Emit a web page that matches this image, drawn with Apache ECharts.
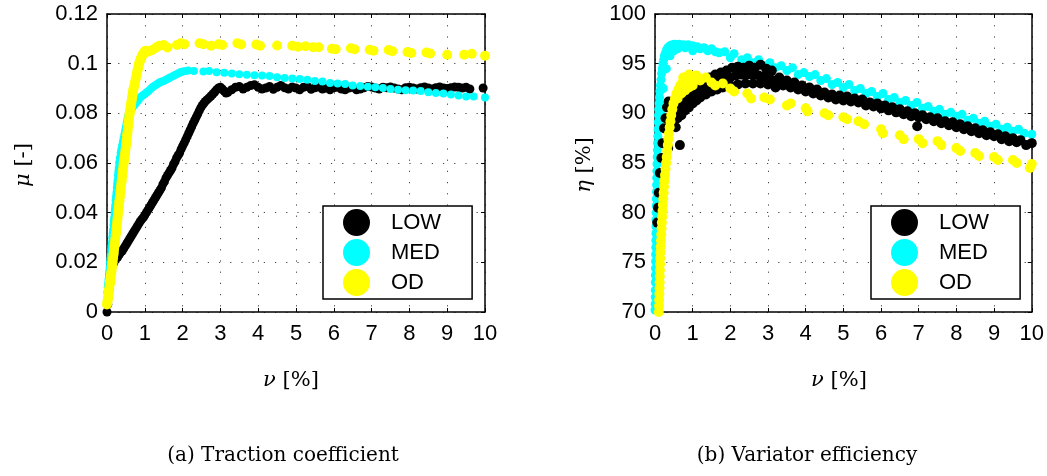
<!DOCTYPE html>
<html>
<head>
<meta charset="utf-8">
<script src="https://cdn.jsdelivr.net/npm/echarts@6/dist/echarts.min.js"></script>
<style>
html,body{margin:0;padding:0;background:#fff;}
#chart{width:1047px;height:476px;}
</style>
</head>
<body>
<div id="chart"></div>
<script>
// ---- Data ----
const seriesNames = ['LOW', 'MED', 'OD'];
const seriesColors = ['#000000', '#00ffff', '#ffff00'];

// (a) Traction coefficient: [slip nu %, mu]
const lowTraction = [[0,0],[0.02,0.003],[0.04,0.006],[0.06,0.009],[0.08,0.012],[0.1,0.015],[0.12,0.017],[0.14,0.0185],[0.17,0.0195],[0.2,0.0205],[0.24,0.0215],[0.28,0.022],[0.32,0.023],[0.36,0.024],[0.4,0.0245],[0.44,0.0255],[0.48,0.0265],[0.52,0.0275],[0.56,0.0285],[0.6,0.0295],[0.64,0.0305],[0.68,0.0315],[0.72,0.0325],[0.76,0.0335],[0.8,0.0345],[0.84,0.0355],[0.88,0.0365],[0.92,0.0373],[0.96,0.038],[1.0,0.039],[1.04,0.040],[1.08,0.041],[1.12,0.042],[1.16,0.043],[1.2,0.044],[1.24,0.045],[1.28,0.046],[1.32,0.047],[1.36,0.048],[1.4,0.049],[1.44,0.050],[1.48,0.0515],[1.52,0.0525],[1.56,0.054],[1.6,0.055],[1.64,0.056],[1.68,0.057],[1.72,0.058],[1.76,0.0595],[1.8,0.0605],[1.84,0.062],[1.88,0.063],[1.92,0.064],[1.96,0.0655],[2.0,0.0668],[2.04,0.068],[2.08,0.0693],[2.12,0.0706],[2.16,0.072],[2.2,0.0733],[2.24,0.0746],[2.28,0.076],[2.32,0.0772],[2.36,0.0785],[2.4,0.0797],[2.44,0.081],[2.48,0.0822],[2.52,0.0832],[2.56,0.084],[2.6,0.0848],[2.65,0.0855],[2.7,0.0862],[2.75,0.087],[2.8,0.0878],[2.85,0.0886],[2.9,0.0895],[2.95,0.0902],[3.0,0.0905],[3.05,0.0898],[3.1,0.089],[3.15,0.0882],[3.2,0.0885],[3.3,0.0895],[3.4,0.0905],[3.5,0.0908],[3.6,0.0898],[3.7,0.0905],[3.8,0.0912],[3.9,0.0915],[4.0,0.0905],[4.1,0.0898],[4.2,0.0902],[4.3,0.0908],[4.4,0.0897],[4.5,0.0905],[4.6,0.0912],[4.7,0.0903],[4.8,0.0898],[4.9,0.0906],[5.0,0.0902],[5.1,0.0895],[5.2,0.0905],[5.3,0.0908],[5.4,0.0897],[5.5,0.0903],[5.6,0.0906],[5.7,0.0898],[5.8,0.0902],[5.9,0.0895],[6.0,0.0903],[6.1,0.0905],[6.2,0.0898],[6.3,0.0895],[6.4,0.0902],[6.5,0.0905],[6.6,0.0895],[6.7,0.0898],[6.8,0.0903],[6.9,0.0908],[7.0,0.0906],[7.1,0.0902],[7.2,0.0898],[7.3,0.0905],[7.4,0.0903],[7.5,0.0906],[7.6,0.0902],[7.7,0.0898],[7.8,0.0895],[7.9,0.0903],[8.0,0.0905],[8.1,0.0902],[8.2,0.0898],[8.3,0.0903],[8.4,0.0906],[8.5,0.0902],[8.6,0.0898],[8.7,0.0903],[8.8,0.0906],[8.9,0.0902],[9.0,0.0900],[9.1,0.0903],[9.2,0.0906],[9.3,0.0905],[9.4,0.0902],[9.5,0.0905],[9.6,0.0898],[9.95,0.0902]];
const medTraction = [[0.01,0.008],[0.02,0.010],[0.03,0.0115],[0.04,0.013],[0.05,0.015],[0.06,0.0165],[0.07,0.018],[0.08,0.020],[0.09,0.0215],[0.1,0.023],[0.11,0.025],[0.12,0.0265],[0.13,0.028],[0.14,0.030],[0.15,0.0315],[0.16,0.033],[0.17,0.035],[0.18,0.0365],[0.19,0.038],[0.2,0.040],[0.21,0.0415],[0.22,0.043],[0.23,0.045],[0.24,0.0465],[0.25,0.048],[0.26,0.050],[0.27,0.0515],[0.28,0.053],[0.29,0.055],[0.3,0.0565],[0.31,0.058],[0.32,0.060],[0.34,0.062],[0.36,0.064],[0.38,0.0655],[0.4,0.067],[0.42,0.0685],[0.44,0.070],[0.46,0.0715],[0.48,0.073],[0.5,0.0745],[0.52,0.076],[0.54,0.0775],[0.56,0.079],[0.59,0.080],[0.62,0.081],[0.66,0.082],[0.7,0.083],[0.74,0.0837],[0.78,0.0845],[0.82,0.0852],[0.86,0.086],[0.9,0.0867],[0.95,0.0873],[1.0,0.0878],[1.05,0.0885],[1.1,0.089],[1.15,0.0898],[1.2,0.0905],[1.25,0.091],[1.3,0.0915],[1.35,0.092],[1.4,0.0925],[1.45,0.0928],[1.5,0.093],[1.56,0.0935],[1.62,0.094],[1.68,0.0945],[1.75,0.095],[1.81,0.0955],[1.88,0.096],[1.94,0.0965],[2.0,0.0968],[2.08,0.097],[2.15,0.0972],[2.3,0.097],[2.55,0.0968],[2.7,0.097],[2.9,0.0965],[3.1,0.0963],[3.3,0.096],[3.5,0.0957],[3.7,0.0955],[3.9,0.0953],[4.1,0.0952],[4.3,0.095],[4.5,0.0945],[4.7,0.0942],[4.9,0.094],[5.1,0.0938],[5.3,0.0935],[5.5,0.093],[5.7,0.0928],[5.9,0.0922],[6.1,0.092],[6.3,0.0918],[6.5,0.0912],[6.7,0.091],[6.9,0.0907],[7.1,0.0905],[7.3,0.0902],[7.5,0.0898],[7.7,0.0895],[7.9,0.0893],[8.1,0.0892],[8.3,0.089],[8.5,0.0885],[8.7,0.0882],[8.9,0.088],[9.1,0.0876],[9.3,0.0872],[9.5,0.0868],[9.7,0.0868],[10,0.0864]];
const odTraction = [[0,0.003],[0.01,0.004],[0.02,0.005],[0.03,0.006],[0.04,0.0075],[0.05,0.0085],[0.06,0.0095],[0.07,0.011],[0.08,0.012],[0.09,0.013],[0.1,0.0145],[0.11,0.0155],[0.12,0.0165],[0.13,0.018],[0.14,0.019],[0.15,0.020],[0.16,0.0215],[0.17,0.023],[0.18,0.024],[0.19,0.0255],[0.2,0.027],[0.21,0.028],[0.22,0.0295],[0.23,0.031],[0.24,0.032],[0.25,0.0335],[0.26,0.035],[0.27,0.0365],[0.28,0.038],[0.29,0.0395],[0.3,0.041],[0.31,0.0425],[0.32,0.044],[0.33,0.045],[0.34,0.0465],[0.35,0.048],[0.36,0.049],[0.37,0.0505],[0.38,0.052],[0.39,0.053],[0.4,0.0545],[0.41,0.056],[0.42,0.057],[0.43,0.0585],[0.44,0.060],[0.45,0.061],[0.46,0.062],[0.47,0.063],[0.48,0.064],[0.49,0.0655],[0.5,0.067],[0.51,0.068],[0.52,0.0695],[0.53,0.071],[0.54,0.072],[0.55,0.0735],[0.56,0.075],[0.57,0.076],[0.58,0.0775],[0.59,0.079],[0.6,0.080],[0.61,0.081],[0.62,0.082],[0.63,0.083],[0.64,0.084],[0.65,0.085],[0.66,0.086],[0.67,0.087],[0.68,0.088],[0.69,0.089],[0.7,0.0898],[0.72,0.091],[0.74,0.0925],[0.76,0.094],[0.78,0.0955],[0.8,0.097],[0.82,0.098],[0.84,0.0995],[0.86,0.1005],[0.88,0.1015],[0.9,0.1022],[0.92,0.103],[0.94,0.1035],[0.96,0.104],[0.98,0.1045],[1.0,0.105],[1.03,0.1052],[1.08,0.1048],[1.2,0.1055],[1.3,0.1065],[1.38,0.1072],[1.5,0.1075],[1.6,0.1065],[1.85,0.1075],[1.95,0.1082],[2.05,0.1078],[2.45,0.1082],[2.55,0.1078],[2.75,0.1072],[2.95,0.1078],[3.05,0.1075],[3.45,0.1082],[3.55,0.1077],[3.95,0.1077],[4.05,0.1072],[4.5,0.1073],[4.9,0.1072],[5.05,0.1068],[5.25,0.107],[5.45,0.1066],[5.6,0.1066],[5.95,0.106],[6.05,0.1058],[6.45,0.1062],[6.55,0.1058],[6.95,0.1056],[7.05,0.1052],[7.45,0.1055],[7.55,0.105],[7.95,0.1047],[8.05,0.1043],[8.45,0.1045],[8.55,0.1041],[9.0,0.1036],[9.45,0.1036],[9.65,0.104],[10.0,0.1032]];

// (b) Variator efficiency: [slip nu %, eta %]
const lowEff = [[0.06,79],[0.08,80.5],[0.1,82],[0.13,84],[0.17,85.5],[0.2,87],[0.24,88.5],[0.28,89.5],[0.32,90.6],[0.36,91.2],[0.35,86.5],[0.66,86.8],[0.45,88.8],[0.5,89.2],[0.55,88.6],[0.6,89.5],[0.7,89.8],[0.8,90.3],[0.9,90.6],[1.0,91],[1.1,91.3],[1.2,91.6],[1.35,91.9],[1.5,92.2],[1.65,92.4],[1.8,92.6],[2.0,92.8],[2.2,92.9],[2.4,93],[2.6,93],[2.8,93],[3.0,92.9],[3.2,92.6],[0.45,90.5],[0.55,91.2],[0.65,91.8],[0.75,92.2],[0.85,92.5],[1.0,92.8],[1.15,93.0],[1.3,93.3],[1.45,93.6],[1.6,93.9],[1.75,94.1],[1.9,94.3],[2.05,94.6],[2.2,94.7],[2.35,94.6],[2.5,94.8],[2.65,94.6],[2.8,94.9],[2.95,94.5],[3.1,94.3],[0.5,90.2],[0.65,90.6],[0.8,91.3],[0.95,91.8],[1.1,92.1],[1.25,92.4],[1.4,92.7],[1.55,93],[1.7,93.2],[1.85,93.5],[2.0,93.6],[2.15,93.8],[2.3,93.9],[2.45,93.9],[2.6,93.9],[2.75,93.8],[2.9,93.7],[3.05,93.5],[3.2,93.3],[3.3,93.6],[3.4,92.8],[3.5,93.3],[3.6,92.6],[3.7,93.1],[3.8,92.4],[3.9,92.8],[4.0,92.2],[4.1,92.6],[4.2,92.0],[4.3,92.4],[4.4,91.8],[4.5,92.1],[4.6,91.6],[4.7,91.9],[4.8,91.4],[4.9,91.8],[5.0,91.3],[5.1,91.7],[5.2,91.2],[5.3,91.5],[5.4,91.1],[5.5,91.4],[5.6,90.8],[5.7,91.1],[5.8,90.7],[5.9,91.0],[6.0,90.5],[6.1,90.8],[6.2,90.3],[6.3,90.6],[6.4,90.1],[6.5,90.4],[6.6,89.9],[6.7,90.2],[6.8,89.7],[6.9,90.0],[6.96,88.7],[7.0,89.6],[7.1,89.8],[7.2,89.4],[7.3,89.6],[7.4,89.2],[7.5,89.5],[7.6,89.0],[7.7,89.2],[7.8,88.8],[7.9,89.1],[8.0,88.6],[8.1,88.9],[8.2,88.4],[8.3,88.7],[8.4,88.2],[8.5,88.5],[8.6,88.0],[8.7,88.3],[8.8,87.8],[8.9,88.1],[9.0,87.7],[9.1,87.9],[9.2,87.4],[9.3,87.7],[9.4,87.2],[9.5,87.5],[9.6,87.1],[9.7,87.3],[9.85,86.8],[10.0,87.0]];
const medEff = [[0.0,70.2],[0.003,70.8],[0.006,71.5],[0.008,72.2],[0.01,73],[0.012,73.7],[0.014,74.4],[0.016,75.1],[0.018,75.8],[0.02,76.5],[0.022,77.2],[0.024,77.9],[0.026,78.6],[0.028,79.3],[0.03,80],[0.033,80.7],[0.036,81.4],[0.039,82.1],[0.042,82.8],[0.046,83.5],[0.05,84.2],[0.054,84.9],[0.058,85.6],[0.063,86.3],[0.068,87],[0.074,87.7],[0.08,88.4],[0.087,89.1],[0.094,89.8],[0.1,90.4],[0.11,91],[0.12,91.6],[0.13,92.2],[0.145,92.8],[0.16,93.4],[0.175,94],[0.19,94.5],[0.21,95],[0.23,95.4],[0.25,95.8],[0.28,96.1],[0.31,96.4],[0.34,96.6],[0.38,96.75],[0.42,96.85],[0.47,96.9],[0.52,96.95],[0.58,96.9],[0.64,96.95],[0.7,96.85],[0.76,96.9],[0.82,96.8],[0.88,96.9],[0.94,96.75],[1.0,96.8],[1.06,96.6],[1.12,96.7],[1.2,96.5],[1.3,96.6],[1.4,96.3],[1.5,96.5],[1.6,96.2],[1.7,96.1],[0.05,78],[0.07,81],[0.09,84],[0.12,87],[0.16,90],[0.22,92.5],[0.3,94.5],[0.4,95.8],[0.5,96.3],[0.6,96.5],[0.8,96.6],[1.0,96.3],[1.85,96.2],[2.0,95.6],[2.1,96.0],[2.3,95.4],[2.45,95.6],[2.6,95.1],[2.75,95.4],[2.9,94.8],[3.05,95.1],[3.2,94.6],[3.35,94.8],[3.5,94.3],[3.65,94.6],[3.8,93.9],[3.95,94.1],[4.1,93.7],[4.25,93.9],[4.4,93.3],[4.55,93.5],[4.7,92.9],[4.85,93.1],[5.0,92.6],[5.15,92.9],[5.3,92.3],[5.45,92.5],[5.6,92.0],[5.75,92.2],[5.9,91.7],[6.05,92.0],[6.2,91.4],[6.35,91.6],[6.5,91.1],[6.65,91.3],[6.8,90.8],[6.95,91.1],[7.1,90.5],[7.25,90.7],[7.4,90.2],[7.55,90.4],[7.7,89.9],[7.85,90.1],[8.0,89.7],[8.15,89.9],[8.3,89.3],[8.45,89.5],[8.6,89.0],[8.75,89.2],[8.9,88.7],[9.05,88.9],[9.2,88.4],[9.35,88.6],[9.5,88.2],[9.65,88.4],[9.8,88.0],[10.0,87.9]];
const odEff = [[0.1,70],[0.105,70.6],[0.11,71.2],[0.115,71.8],[0.12,72.4],[0.123,73],[0.126,73.6],[0.13,74.2],[0.134,74.8],[0.138,75.4],[0.143,76],[0.15,76.6],[0.158,77.2],[0.166,77.8],[0.174,78.4],[0.182,79],[0.19,79.6],[0.2,80.2],[0.21,80.8],[0.22,81.4],[0.23,82],[0.24,82.6],[0.25,83.2],[0.265,83.8],[0.28,84.4],[0.295,85],[0.31,85.6],[0.325,86.2],[0.34,86.8],[0.355,87.4],[0.37,88],[0.39,88.6],[0.41,89.2],[0.43,89.8],[0.46,90.4],[0.49,91],[0.53,91.5],[0.57,92],[0.62,92.4],[0.67,92.8],[0.73,93.1],[0.8,93.3],[0.87,93.5],[0.94,93.6],[1.0,93.6],[1.06,93.5],[1.12,93.4],[1.2,93.3],[0.6,91.5],[0.7,92],[0.8,92.3],[0.9,92.6],[1.0,92.8],[0.75,93.6],[0.9,93.9],[1.1,93.8],[1.35,93.6],[1.5,93.1],[1.6,92.8],[1.8,93.0],[2.0,92.5],[2.1,92.2],[2.45,92.0],[2.55,91.5],[2.9,91.6],[3.05,91.4],[3.5,90.8],[3.6,91.0],[4.0,90.5],[4.05,90.2],[4.5,90.0],[4.6,89.8],[5.0,89.6],[5.1,89.4],[5.4,89.2],[5.55,88.9],[6.0,88.4],[6.05,88.0],[6.5,87.8],[6.6,87.4],[7.0,87.4],[7.1,87.0],[7.5,87.2],[7.6,86.8],[8.0,86.5],[8.1,86.2],[8.5,86.0],[8.6,85.7],[9.0,85.6],[9.1,85.3],[9.5,85.3],[9.6,85.0],[10,84.9],[9.95,84.5]];

const xRange = [0, 10, 1];
const muRange = [0, 0.12, 0.02];
const etaRange = [70, 100, 5];
const captions = ['(a) Traction coefficient', '(b) Variator efficiency'];

// ---- Chart ----
const chart = echarts.init(document.getElementById('chart'), null, {renderer: 'canvas'});
const SANS = 'Liberation Sans, Arial, Helvetica, sans-serif';
const SERIF = 'DejaVu Serif, Liberation Serif, serif';
const GRID_LINE = {color: '#444', width: 1, type: [1.2, 10]};

function mainX(gi) {
  return {
    gridIndex: gi, type: 'value', min: xRange[0], max: xRange[1], interval: xRange[2], position: 'bottom',
    axisLine: {show: true, onZero: false, lineStyle: {color: '#000', width: 1.5}},
    axisTick: {show: true, inside: true, length: 4, lineStyle: {color: '#000'}},
    axisLabel: {color: '#000', fontSize: 22, fontFamily: SANS, margin: 11},
    splitLine: {show: true, lineStyle: GRID_LINE}
  };
}
function boxX(gi) {
  return {
    gridIndex: gi, type: 'value', min: xRange[0], max: xRange[1], interval: xRange[2], position: 'top',
    axisLine: {show: true, onZero: false, lineStyle: {color: '#000', width: 1.5}},
    axisTick: {show: true, inside: true, length: 4, lineStyle: {color: '#000'}},
    axisLabel: {show: false}, splitLine: {show: false}
  };
}
function mainY(gi, r, fmt) {
  return {
    gridIndex: gi, type: 'value', min: r[0], max: r[1], interval: r[2], position: 'left',
    axisLine: {show: true, onZero: false, lineStyle: {color: '#000', width: 1.5}},
    axisTick: {show: true, inside: true, length: 4, lineStyle: {color: '#000'}},
    axisLabel: {color: '#000', fontSize: 22, fontFamily: SANS, margin: 9, formatter: fmt},
    splitLine: {show: true, lineStyle: GRID_LINE}
  };
}
function boxY(gi, r) {
  return {
    gridIndex: gi, type: 'value', min: r[0], max: r[1], interval: r[2], position: 'right',
    axisLine: {show: true, onZero: false, lineStyle: {color: '#000', width: 1.5}},
    axisTick: {show: true, inside: true, length: 4, lineStyle: {color: '#000'}},
    axisLabel: {show: false}, splitLine: {show: false}
  };
}
function sc(name, data, xi, yi, color, size) {
  return {
    name: name, type: 'scatter', xAxisIndex: xi, yAxisIndex: yi, data: data,
    symbol: 'circle', symbolSize: size, clip: true, large: false,
    itemStyle: {color: color, opacity: 1},
    emphasis: {disabled: true}, animation: false
  };
}
function legend(left) {
  return {
    data: seriesNames, left: left, top: 206, orient: 'vertical',
    padding: [3, 31, 3, 20], itemWidth: 27, itemHeight: 27, itemGap: 3,
    icon: 'circle', borderColor: '#000', borderWidth: 1.5, backgroundColor: '#fff',
    selectedMode: false,
    textStyle: {color: '#000', fontSize: 22, fontFamily: SANS, padding: [0, 0, 0, 16]}
  };
}
function txt(x, y, text, size, rot) {
  return {type: 'text', x: x, y: y, rotation: rot || 0,
    style: {text: text, fill: '#000', font: size + 'px ' + SERIF, align: 'center', verticalAlign: 'middle',
      rich: {i: {fontStyle: 'italic', fontSize: size, fontFamily: SERIF}}}};
}

const option = {
  backgroundColor: '#fff',
  animation: false,
  color: seriesColors,
  grid: [
    {left: 107, top: 14, width: 378, height: 298, containLabel: false},
    {left: 655, top: 14, width: 378, height: 298, containLabel: false}
  ],
  xAxis: [mainX(0), boxX(0), mainX(1), boxX(1)],
  yAxis: [
    mainY(0, muRange, v => String(+v.toFixed(2))), boxY(0, muRange),
    mainY(1, etaRange, v => String(Math.round(v))), boxY(1, etaRange)
  ],
  legend: [legend(323), legend(871)],
  series: [
    sc('LOW', lowTraction, 0, 0, seriesColors[0], 9),
    sc('MED', medTraction, 0, 0, seriesColors[1], 8),
    sc('OD', odTraction, 0, 0, seriesColors[2], 10),
    sc('MED', medEff, 2, 2, seriesColors[1], 9),
    sc('LOW', lowEff, 2, 2, seriesColors[0], 10),
    sc('OD', odEff, 2, 2, seriesColors[2], 10)
  ],
  graphic: [
    txt(24, 165, '{i|μ} [-]', 21, Math.PI / 2),
    txt(585, 165, '{i|η} [%]', 21, Math.PI / 2),
    txt(291, 381, '{i|ν} [%]', 21),
    txt(839, 381, '{i|ν} [%]', 21),
    txt(283, 456, captions[0], 20),
    txt(807, 456, captions[1], 20)
  ]
};
chart.setOption(option);
</script>
</body>
</html>
